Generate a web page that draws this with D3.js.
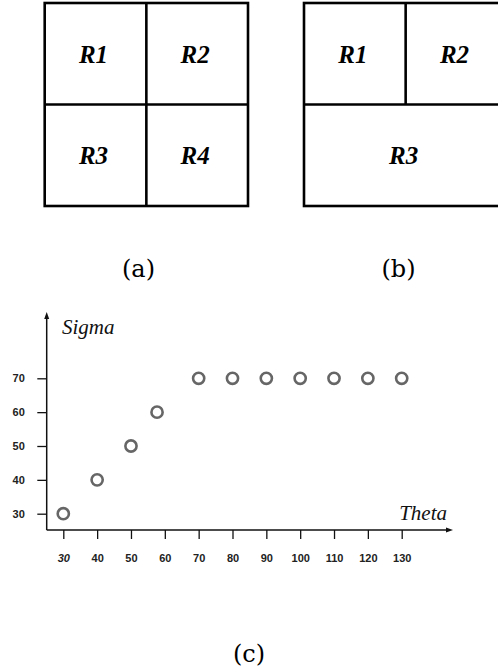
<!DOCTYPE html>
<html>
<head>
<meta charset="utf-8">
<script src="https://cdn.jsdelivr.net/npm/d3@7"></script>
<style>
  html, body { margin: 0; padding: 0; background: #fff; }
  svg { display: block; }
</style>
</head>
<body>
<svg id="chart" width="498" height="671"></svg>
<script>
// ---- data ----
const gridA = ["R1", "R2", "R3", "R4"];
const gridB = ["R1", "R2", "R3"];
const panelLabels = ["(a)", "(b)", "(c)"];
const theta = [30, 40, 50, 57.7, 70, 80, 90, 100, 110, 120, 130];
const sigma = [30, 40, 50, 60, 70, 70, 70, 70, 70, 70, 70];
const xTicks = [30, 40, 50, 60, 70, 80, 90, 100, 110, 120, 130];
const yTicks = [30, 40, 50, 60, 70];
const xTitle = "Theta";
const yTitle = "Sigma";

const svg = d3.select("#chart");

// ---- top diagrams ----
const boxW = 203.3, boxH = 203;
const lw = 2.6;
function drawBox(x0, y0, cells, splitBottom) {
  const g = svg.append("g");
  g.append("rect").attr("x", x0).attr("y", y0).attr("width", boxW).attr("height", boxH)
    .attr("fill", "none").attr("stroke", "#000").attr("stroke-width", lw);
  g.append("line").attr("x1", x0).attr("x2", x0 + boxW).attr("y1", y0 + boxH / 2).attr("y2", y0 + boxH / 2)
    .attr("stroke", "#000").attr("stroke-width", lw);
  g.append("line").attr("x1", x0 + boxW / 2).attr("x2", x0 + boxW / 2).attr("y1", y0)
    .attr("y2", splitBottom ? y0 + boxH : y0 + boxH / 2)
    .attr("stroke", "#000").attr("stroke-width", lw);
  const pos = splitBottom
    ? [[0.25, 0.25], [0.75, 0.25], [0.25, 0.75], [0.75, 0.75]]
    : [[0.25, 0.25], [0.75, 0.25], [0.5, 0.75]];
  cells.forEach((c, i) => {
    g.append("text").attr("x", x0 + boxW * pos[i][0] - 2).attr("y", y0 + boxH * pos[i][1] + 9)
      .attr("text-anchor", "middle")
      .style("font-family", "'Liberation Serif', 'Times New Roman', serif")
      .style("font-weight", "bold").style("font-style", "italic")
      .style("font-size", "25px").attr("fill", "#000").text(c);
  });
}
drawBox(44.7, 3, gridA, true);
drawBox(304, 3, gridB, false);

const labelFont = "'DejaVu Serif', serif";
[[138.5, 277], [398.5, 277]].forEach((p, i) => {
  svg.append("text").attr("x", p[0]).attr("y", p[1]).attr("text-anchor", "middle")
    .style("font-family", labelFont).style("font-size", "24px").attr("fill", "#000")
    .text(panelLabels[i]);
});

// ---- scatter (c) ----
const x = d3.scaleLinear().domain([30, 130]).range([63.3, 401.7]);
const y = d3.scaleLinear().domain([30, 70]).range([513.7, 378.3]);
const originX = 46.7, originY = 530;

const axisColor = "#111";
svg.append("line").attr("x1", originX).attr("x2", originX).attr("y1", originY).attr("y2", 316)
  .attr("stroke", axisColor).attr("stroke-width", 1.5);
svg.append("line").attr("x1", originX).attr("x2", 449).attr("y1", originY).attr("y2", originY)
  .attr("stroke", axisColor).attr("stroke-width", 1.5);
svg.append("path").attr("d", `M${originX},312 L${originX - 2.5},319 L${originX + 2.5},319 Z`).attr("fill", axisColor);
svg.append("path").attr("d", `M453,${originY} L446,${originY - 2.5} L446,${originY + 2.5} Z`).attr("fill", axisColor);

const gx = svg.append("g").attr("transform", `translate(0,${originY})`)
  .call(d3.axisBottom(x).tickValues(xTicks).tickSize(9).tickPadding(15).tickFormat(d3.format("d")));
gx.select(".domain").remove();
gx.selectAll(".tick line").attr("stroke", axisColor).attr("stroke-width", 1.3);
gx.selectAll(".tick text")
  .style("font-family", "'Liberation Sans', Arial, sans-serif").style("font-weight", "bold")
  .style("font-size", "11px").attr("fill", "#222")
  .style("font-style", (d, i) => i === 0 ? "italic" : "normal");

const gy = svg.append("g").attr("transform", `translate(${originX},0)`)
  .call(d3.axisLeft(y).tickValues(yTicks).tickSize(9.4).tickPadding(12.5).tickFormat(d3.format("d")));
gy.select(".domain").remove();
gy.selectAll(".tick line").attr("stroke", axisColor).attr("stroke-width", 1.3);
gy.selectAll(".tick text")
  .style("font-family", "'Liberation Sans', Arial, sans-serif").style("font-weight", "bold")
  .style("font-size", "11px").attr("fill", "#222");

svg.append("text").attr("x", 62).attr("y", 334)
  .style("font-family", "'Liberation Serif', 'Times New Roman', serif").style("font-style", "italic")
  .style("font-size", "21px").attr("fill", "#111").text(yTitle);
svg.append("text").attr("x", 447).attr("y", 520).attr("text-anchor", "end")
  .style("font-family", "'Liberation Serif', 'Times New Roman', serif").style("font-style", "italic")
  .style("font-size", "21px").attr("fill", "#111").text(xTitle);

svg.append("g").selectAll("circle").data(theta.map((t, i) => [t, sigma[i]])).join("circle")
  .attr("cx", d => x(d[0])).attr("cy", d => y(d[1])).attr("r", 5.6)
  .attr("fill", "none").attr("stroke", "#666").attr("stroke-width", 2.6);

svg.append("text").attr("x", 249).attr("y", 662).attr("text-anchor", "middle")
  .style("font-family", labelFont).style("font-size", "24px").attr("fill", "#000")
  .text(panelLabels[2]);
</script>
</body>
</html>
